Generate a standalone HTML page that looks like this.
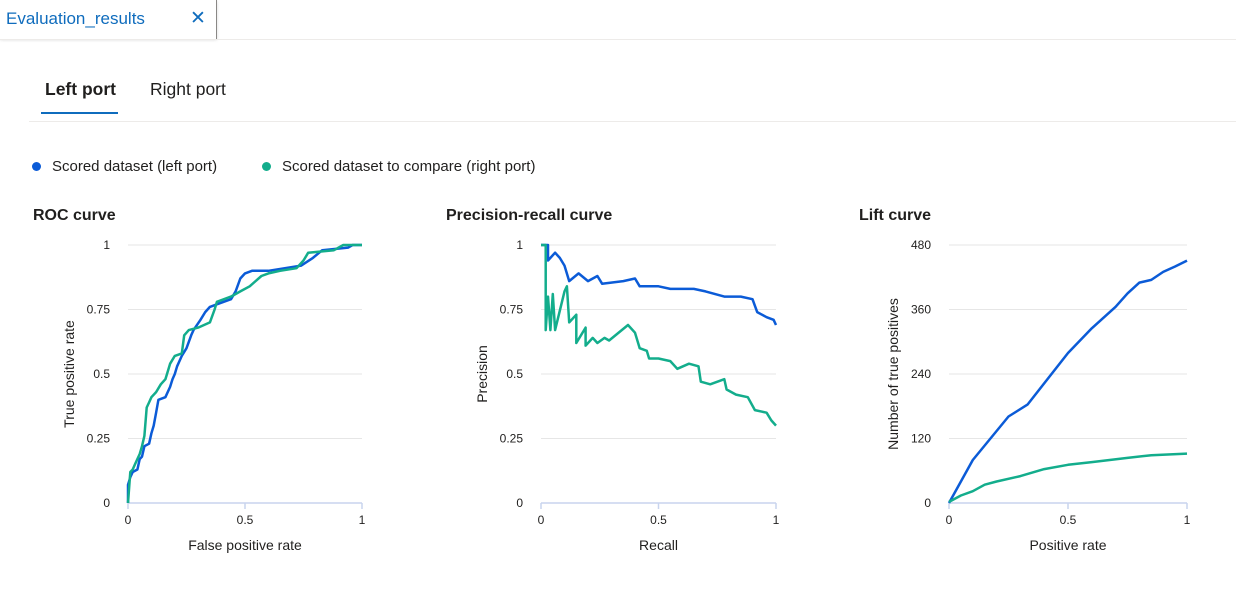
<!DOCTYPE html>
<html><head><meta charset="utf-8"><style>
body{margin:0;width:1236px;height:596px;background:#fff;font-family:"Segoe UI","Liberation Sans",sans-serif;overflow:hidden;position:relative;color:#201f1e}
.abs{position:absolute}
</style></head><body>
<div class="abs" style="left:0;top:0;width:216px;height:39px;border-right:1px solid #8a8886;box-shadow:0 1px 3px rgba(0,0,0,.15)">
<span class="abs" style="left:6px;top:9px;font-size:17px;color:#0f6cbd">Evaluation_results</span>
<span class="abs" style="left:190px;top:7px;font-size:19px;color:#0f6cbd">✕</span>
</div>
<div class="abs" style="left:0;top:39px;width:1236px;height:1px;background:#edebe9"></div>
<div class="abs" style="left:45px;top:79px;font-size:17.5px;font-weight:bold">Left port</div>
<div class="abs" style="left:41px;top:112px;width:77px;height:2px;background:#0f6cbd"></div>
<div class="abs" style="left:150px;top:79px;font-size:17.5px">Right port</div>
<div class="abs" style="left:29px;top:121px;width:1207px;height:1px;background:#edebe9"></div>
<div class="abs" style="left:32px;top:158px;font-size:15px"><span style="display:inline-block;width:9px;height:9px;border-radius:50%;background:#0b5bd7;margin-right:11px"></span>Scored dataset (left port)</div>
<div class="abs" style="left:262px;top:158px;font-size:15px"><span style="display:inline-block;width:9px;height:9px;border-radius:50%;background:#13ad8c;margin-right:11px"></span>Scored dataset to compare (right port)</div>
<svg id="svg" class="abs" style="left:0;top:0" width="1236" height="596"></svg>
<script>
const rocBlueX=[0,0,0.01,0.02,0.04,0.05,0.06,0.07,0.09,0.1,0.11,0.12,0.13,0.16,0.18,0.19,0.2,0.21,0.23,0.25,0.27,0.28,0.31,0.33,0.35,0.38,0.44,0.46,0.48,0.5,0.53,0.6,0.67,0.74,0.79,0.83,0.94,0.96,1];
const rocBlueY=[0,0.07,0.1,0.12,0.13,0.17,0.18,0.22,0.23,0.27,0.3,0.35,0.4,0.41,0.45,0.48,0.5,0.53,0.57,0.6,0.65,0.67,0.71,0.74,0.76,0.77,0.79,0.82,0.87,0.89,0.9,0.9,0.91,0.92,0.95,0.98,0.99,1,1];
const rocGreenX=[0,0.01,0.02,0.03,0.05,0.06,0.07,0.08,0.09,0.1,0.12,0.14,0.16,0.17,0.18,0.2,0.23,0.24,0.26,0.3,0.35,0.37,0.38,0.44,0.48,0.52,0.57,0.6,0.65,0.72,0.75,0.77,0.88,0.92,1];
const rocGreenY=[0,0.12,0.13,0.15,0.19,0.22,0.26,0.37,0.39,0.41,0.43,0.46,0.48,0.51,0.54,0.57,0.58,0.65,0.67,0.68,0.7,0.75,0.78,0.8,0.82,0.84,0.88,0.89,0.9,0.91,0.94,0.97,0.98,1,1];
const prBlueX=[0,0.03,0.03,0.06,0.08,0.1,0.12,0.16,0.2,0.24,0.26,0.35,0.4,0.42,0.5,0.55,0.65,0.7,0.78,0.85,0.9,0.92,0.96,0.99,1];
const prBlueY=[1,1,0.94,0.97,0.95,0.92,0.86,0.89,0.86,0.88,0.85,0.86,0.87,0.84,0.84,0.83,0.83,0.82,0.8,0.8,0.79,0.74,0.72,0.71,0.69];
const prGreenX=[0,0.02,0.02,0.03,0.04,0.05,0.06,0.1,0.11,0.12,0.15,0.15,0.19,0.19,0.22,0.24,0.27,0.29,0.37,0.4,0.42,0.45,0.46,0.5,0.55,0.58,0.63,0.67,0.68,0.72,0.78,0.79,0.83,0.88,0.91,0.96,0.98,1];
const prGreenY=[1,1,0.67,0.8,0.67,0.81,0.67,0.82,0.84,0.7,0.73,0.62,0.68,0.61,0.64,0.62,0.64,0.63,0.69,0.66,0.6,0.59,0.56,0.56,0.55,0.52,0.54,0.53,0.47,0.46,0.48,0.44,0.42,0.41,0.36,0.35,0.32,0.3];
const liftBlueX=[0,0.1,0.25,0.33,0.5,0.6,0.7,0.75,0.8,0.85,0.9,0.95,1];
const liftBlueY=[0,80,161,183,279,325,365,390,410,415,430,440,451];
const liftGreenX=[0,0.05,0.1,0.15,0.2,0.3,0.4,0.5,0.6,0.75,0.85,1];
const liftGreenY=[2,14,22,34,40,50,63,71,76,84,89,92];
const unitTicks=["0","0.25","0.5","0.75","1"];
const liftTicks=["0","120","240","360","480"];
const xTicks=["0","0.5","1"];
const svg=document.getElementById('svg');
const NS='http://www.w3.org/2000/svg';
function mk(tag,attrs,parent){const e=document.createElementNS(NS,tag);for(const k in attrs)e.setAttribute(k,attrs[k]);(parent||svg).appendChild(e);return e;}
function chart(o){
  const g=mk('g',{});
  
  
  const sx=v=>o.x0+v*(o.x1-o.x0), sy=v=>o.y1-(v/o.ymax)*(o.y1-o.y0);
  const t=mk('text',{x:o.tx,y:220,'font-size':16,'font-weight':'bold',fill:'#201f1e'},g);t.textContent=o.title;
  
  
  o.yt.forEach((lb,i)=>{const v=i*o.ymax/(o.yt.length-1);const y=sy(v);
    if(i>0){const l=mk('line',{x1:o.x0,x2:o.x1,y1:y,y2:y,stroke:'#e6e6e6','stroke-width':1},g);
    
    }
    const tx=mk('text',{x:o.x0-18,y:y+4,'font-size':12,'text-anchor':'end',fill:'#201f1e'},g);tx.textContent=lb;
    
    });
  const ax=mk('line',{x1:o.x0,x2:o.x1,y1:o.y1,y2:o.y1,stroke:'#c8d4ee','stroke-width':1.5},g);
  
  
  xTicks.forEach((lb,i)=>{const x=sx(i/2);
    const tk=mk('line',{x1:x,x2:x,y1:o.y1,y2:o.y1+6,stroke:'#c8d4ee','stroke-width':1.5},g);
    
    
    const tx=mk('text',{x:x,y:o.y1+21,'font-size':12,'text-anchor':'middle',fill:'#201f1e'},g);tx.textContent=lb;
    
    });
  const xl=mk('text',{x:(o.x0+o.x1)/2,y:550,'font-size':14,'text-anchor':'middle',fill:'#201f1e'},g);xl.textContent=o.xl;
  
  
  const yl=mk('text',{x:0,y:0,'font-size':14,'text-anchor':'middle',fill:'#201f1e',transform:`translate(${o.ylx},${(o.y0+o.y1)/2}) rotate(-90)`},g);yl.textContent=o.yl;
  
  
  o.series.forEach(s=>{const d=s.x.map((v,i)=>(i?'L':'M')+sx(v).toFixed(1)+' '+sy(s.y[i]).toFixed(1)).join('');
    const p=mk('path',{d:d,fill:'none',stroke:s.c,'stroke-width':2.5,'stroke-linejoin':'round'},g);
    
    });
}
chart({name:'roc-chart',title:'ROC curve',tx:33,x0:128,x1:362,y0:245,y1:503,ymax:1,yt:unitTicks,xl:'False positive rate',yl:'True positive rate',ylx:74,
 series:[{x:rocBlueX,y:rocBlueY,c:'#0b5bd7',n:'roc-line-left'},{x:rocGreenX,y:rocGreenY,c:'#13ad8c',n:'roc-line-right'}]});
chart({name:'pr-chart',title:'Precision-recall curve',tx:446,x0:541,x1:776,y0:245,y1:503,ymax:1,yt:unitTicks,xl:'Recall',yl:'Precision',ylx:487,
 series:[{x:prBlueX,y:prBlueY,c:'#0b5bd7',n:'pr-line-left'},{x:prGreenX,y:prGreenY,c:'#13ad8c',n:'pr-line-right'}]});
chart({name:'lift-chart',title:'Lift curve',tx:859,x0:949,x1:1187,y0:245,y1:503,ymax:480,yt:liftTicks,xl:'Positive rate',yl:'Number of true positives',ylx:898,
 series:[{x:liftBlueX,y:liftBlueY,c:'#0b5bd7',n:'lift-line-left'},{x:liftGreenX,y:liftGreenY,c:'#13ad8c',n:'lift-line-right'}]});
</script>
</body></html>
